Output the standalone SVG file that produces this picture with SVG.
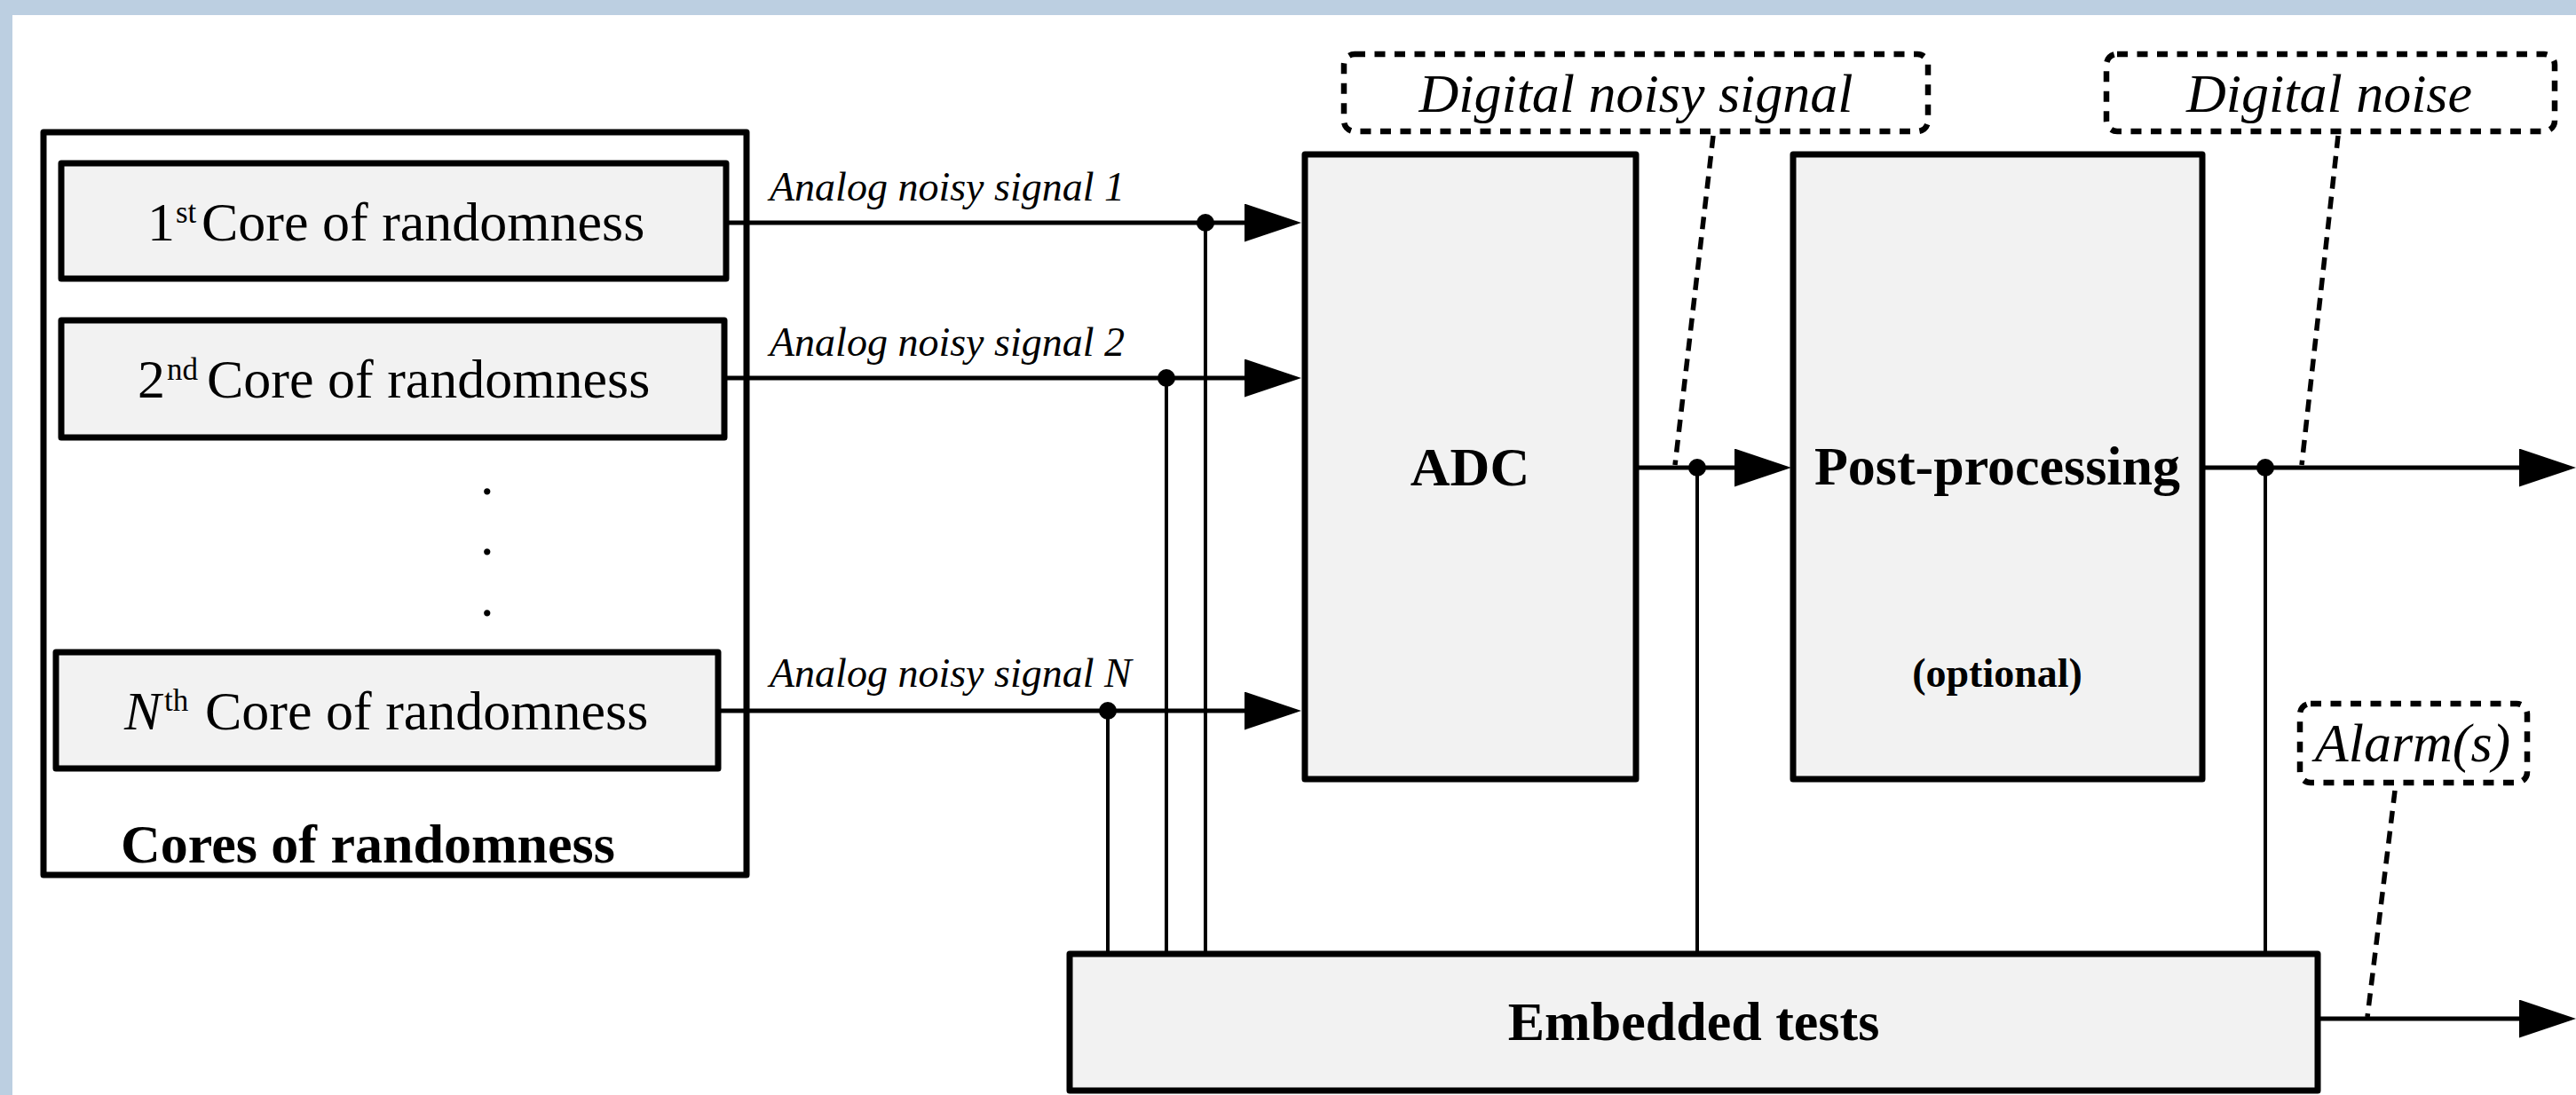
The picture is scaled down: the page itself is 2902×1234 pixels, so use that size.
<svg xmlns="http://www.w3.org/2000/svg" width="2902" height="1234" viewBox="0 0 2902 1234">
<defs>
<style>
.bg{fill:#bccfe1}
.box{fill:#f2f2f2;stroke:#000;stroke-width:7;stroke-linejoin:round}
.frame{fill:#fff;stroke:#000;stroke-width:7;stroke-linejoin:round}
.call{fill:#fff;stroke:#000;stroke-width:6.5;stroke-dasharray:12 10.5}
.lead{fill:none;stroke:#000;stroke-width:5.5;stroke-dasharray:14 9}
.wire{fill:none;stroke:#000;stroke-width:5}
.tap{fill:none;stroke:#000;stroke-width:4}
.dot{fill:#000}
text{font-family:"Liberation Serif","Times New Roman",serif;fill:#000}
.t62{font-size:62px}
.b{font-weight:bold}
.i{font-style:italic}
.sig{font-size:46px;font-style:italic}
.sup{font-size:35px}
.mid{text-anchor:middle}
</style>
<marker id="arr" viewBox="0 0 64 43" refX="1" refY="21.5" markerWidth="64" markerHeight="43" markerUnits="userSpaceOnUse" orient="auto"><path d="M0,0 L64,21.5 L0,43 Z" fill="#000"/></marker>
</defs>
<rect x="0" y="0" width="2902" height="1234" fill="#fff"/>
<rect class="bg" x="0" y="0" width="2902" height="17"/>
<rect class="bg" x="0" y="0" width="14" height="1234"/>

<g id="cores">
<rect class="frame" x="49" y="149" width="792" height="837"/>
<text class="t62 b" x="136" y="972">Cores of randomness</text>
<text class="t62" x="541" y="557">.</text>
<text class="t62" x="541" y="625">.</text>
<text class="t62" x="541" y="694">.</text>
</g>
<g id="core1">
<rect class="box" x="69" y="184" width="749" height="130"/>
<text class="t62"><tspan x="166" y="271">1</tspan><tspan class="sup" x="198" y="251">st</tspan><tspan x="227" y="271">Core of randomness</tspan></text>
</g>
<g id="core2">
<rect class="box" x="69" y="361" width="747" height="132"/>
<text class="t62"><tspan x="155" y="448">2</tspan><tspan class="sup" x="188" y="428">nd</tspan><tspan x="233" y="448">Core of randomness</tspan></text>
</g>
<g id="coreN">
<rect class="box" x="63" y="735" width="746" height="131"/>
<text class="t62"><tspan class="i" x="140" y="822">N</tspan><tspan class="sup" x="185" y="801">th</tspan><tspan x="231" y="822">Core of randomness</tspan></text>
</g>

<g id="connectors">
<path class="wire" d="M818,251 H1403" marker-end="url(#arr)"/>
<path class="wire" d="M816,426 H1403" marker-end="url(#arr)"/>
<path class="wire" d="M809,801 H1403" marker-end="url(#arr)"/>
<path class="tap" d="M1358,251 V1075 M1314,426 V1075 M1248,801 V1075"/>
<circle class="dot" cx="1358" cy="251" r="10"/>
<circle class="dot" cx="1314" cy="426" r="10"/>
<circle class="dot" cx="1248" cy="801" r="10"/>
<path class="wire" d="M1843,527 H1955" marker-end="url(#arr)"/>
<path class="tap" d="M1912,527 V1075"/>
<circle class="dot" cx="1912" cy="527" r="10"/>
<path class="wire" d="M2481,527 H2839" marker-end="url(#arr)"/>
<path class="tap" d="M2552,527 V1075"/>
<circle class="dot" cx="2552" cy="527" r="10"/>
<path class="wire" d="M2611,1148 H2839" marker-end="url(#arr)"/>
<text class="sig" x="867" y="226">Analog noisy signal 1</text>
<text class="sig" x="867" y="401">Analog noisy signal 2</text>
<text class="sig" x="867" y="774">Analog noisy signal N</text>
<path class="lead" d="M1930,153 L1887,524"/>
<path class="lead" d="M2634,153 L2593,524"/>
<path class="lead" d="M2698,891 L2667,1146"/>
</g>

<g id="adc">
<rect class="box" x="1470" y="174" width="373" height="704"/>
<text class="t62 b mid" x="1656" y="547">ADC</text>
</g>
<g id="postproc">
<rect class="box" x="2020" y="174" width="461" height="704"/>
<text class="t62 b mid" x="2250" y="546">Post-processing</text>
<text class="b mid" font-size="46" x="2250" y="774">(optional)</text>
</g>
<g id="tests">
<rect class="box" x="1205" y="1075" width="1406" height="154"/>
<text class="t62 b mid" x="1908" y="1172">Embedded tests</text>
</g>
<g id="callout-digital-noisy-signal">
<rect class="call" x="1514" y="61" width="658" height="87" rx="12"/>
<text class="t62 i mid" x="1843" y="126">Digital noisy signal</text>
</g>
<g id="callout-digital-noise">
<rect class="call" x="2373" y="61" width="505" height="87" rx="12"/>
<text class="t62 i mid" x="2624" y="126">Digital noise</text>
</g>
<g id="callout-alarms">
<rect class="call" x="2591" y="793" width="256" height="89" rx="12"/>
<text class="t62 i mid" x="2718" y="858">Alarm(s)</text>
</g>
</svg>
